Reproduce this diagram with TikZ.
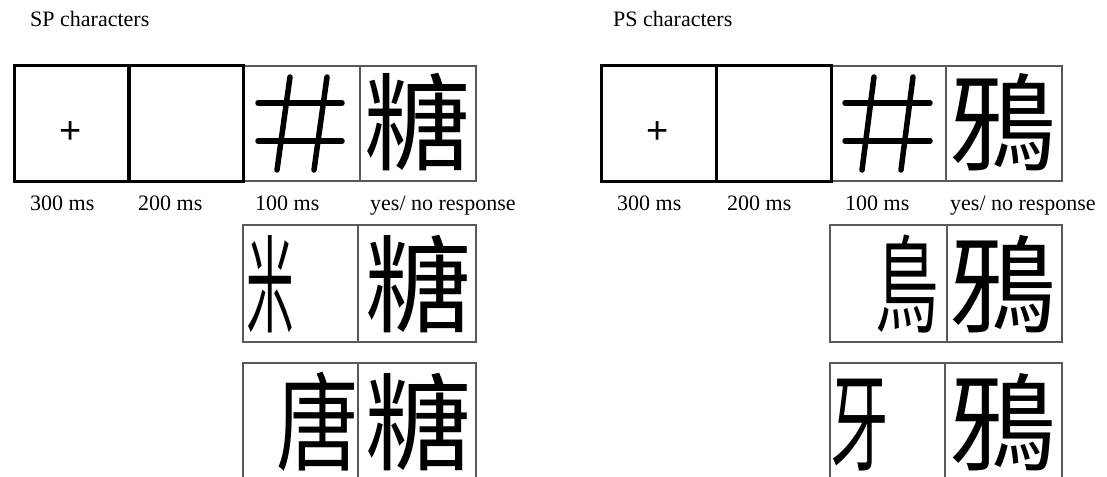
\documentclass[tikz,border=0pt]{standalone}
\usepackage{fontspec}
\setmainfont{Liberation Serif}
\newfontfamily\cjk{Noto Sans CJK TC}
\newfontfamily\plusfont{Liberation Sans}
\tikzset{
  thincell/.style={draw=black!65, line width=1.3pt, inner sep=0pt, minimum height=115pt},
  lowcell/.style={draw=black!65, line width=1.3pt, inner sep=0pt, minimum height=117pt},
  thickcell/.style={draw=black, line width=3pt, inner sep=0pt, minimum height=115pt, minimum width=115pt},
  hashline/.style={line width=5.5pt, line cap=round},
  lbl/.style={anchor=base west, inner sep=0pt, font=\fontsize{22}{26}\selectfont},
  han/.style={inner sep=0pt, font=\cjk\fontsize{106}{106}\selectfont},
  plus/.style={inner sep=0pt, font=\plusfont\fontsize{38}{38}\selectfont}
}
\begin{document}
\begin{tikzpicture}[x=1pt,y=-1pt]
\useasboundingbox (0,0) rectangle (1107,476);
\clip (0,0) rectangle (1107,476);
\fill[white] (0,0) rectangle (1107,476);

% titles
\node[lbl] (tsp) at (30,27) {SP characters};
\node[lbl] (tps) at (613,27) {PS characters};

% ---------- left panel, top row ----------
\node[thincell, minimum width=117pt] (l3) at (301.5,123.5) {};
\node[thincell, minimum width=116pt] (l4) at (418,123.5) {};
\node[thickcell] (l1) at (71.5,123.5) {};
\node[thickcell] (l2) at (186,123.5) {};
\node[plus] (lplus) at (71,133) {+};
\coordinate (lh1a) at (258,103); \coordinate (lh1b) at (342,103);
\coordinate (lh2a) at (258,141); \coordinate (lh2b) at (342,141);
\coordinate (lv1a) at (290,77); \coordinate (lv1b) at (277,170);
\coordinate (lv2a) at (327,77); \coordinate (lv2b) at (314,170);
\draw[hashline] (lh1a) -- (lh1b); \draw[hashline] (lh2a) -- (lh2b);
\draw[hashline] (lv1a) -- (lv1b); \draw[hashline] (lv2a) -- (lv2b);
\node[han] (ltang) at (417,122) {糖};
\node[lbl] (lt1) at (30,210) {300 ms};
\node[lbl] (lt2) at (138,210) {200 ms};
\node[lbl] (lt3) at (255,210) {100 ms};
\node[lbl] (lt4) at (370,210) {yes/ no response};

% ---------- left panel, lower rows ----------
\node[lowcell, minimum width=115pt] (la1) at (300.5,283.5) {};
\node[lowcell, minimum width=118pt] (la2) at (417,283.5) {};
\node[han, xscale=0.45] (lmi) at (270,284) {米};
\node[han] (ltang2) at (418,284) {糖};
\node[lowcell, minimum width=115pt] (lb1) at (300.5,421.5) {};
\node[lowcell, minimum width=118pt] (lb2) at (417,421.5) {};
\node[han, xscale=0.78] (ltan) at (318,422) {唐};
\node[han] (ltang3) at (418,422) {糖};

% ---------- right panel, top row ----------
\node[thincell, minimum width=115pt] (r3) at (888.5,123.5) {};
\node[thincell, minimum width=116pt] (r4) at (1004,123.5) {};
\node[thickcell] (r1) at (658.5,123.5) {};
\node[thickcell] (r2) at (773.5,123.5) {};
\node[plus] (rplus) at (658,133) {+};
\coordinate (rh1a) at (845,103); \coordinate (rh1b) at (930,103);
\coordinate (rh2a) at (845,141); \coordinate (rh2b) at (930,141);
\coordinate (rv1a) at (874,77); \coordinate (rv1b) at (862,170);
\coordinate (rv2a) at (913,77); \coordinate (rv2b) at (901,170);
\draw[hashline] (rh1a) -- (rh1b); \draw[hashline] (rh2a) -- (rh2b);
\draw[hashline] (rv1a) -- (rv1b); \draw[hashline] (rv2a) -- (rv2b);
\node[han] (rya) at (1003,122) {鴉};
\node[lbl] (rt1) at (617,210) {300 ms};
\node[lbl] (rt2) at (727,210) {200 ms};
\node[lbl] (rt3) at (845,210) {100 ms};
\node[lbl] (rt4) at (950,210) {yes/ no response};

% ---------- right panel, lower rows ----------
\node[lowcell, minimum width=117pt] (ra1) at (888.5,283.5) {};
\node[lowcell, minimum width=115pt] (ra2) at (1004.5,283.5) {};
\node[han, xscale=0.6] (rniao) at (907,284) {鳥};
\node[han] (rya2) at (1003,284) {鴉};
\node[lowcell, minimum width=115pt] (rb1) at (887.5,421.5) {};
\node[lowcell, minimum width=117pt] (rb2) at (1003.5,421.5) {};
\node[han, xscale=0.55] (rya3) at (860,425) {牙};
\node[han] (rya4) at (1003,422) {鴉};
\end{tikzpicture}
\end{document}
